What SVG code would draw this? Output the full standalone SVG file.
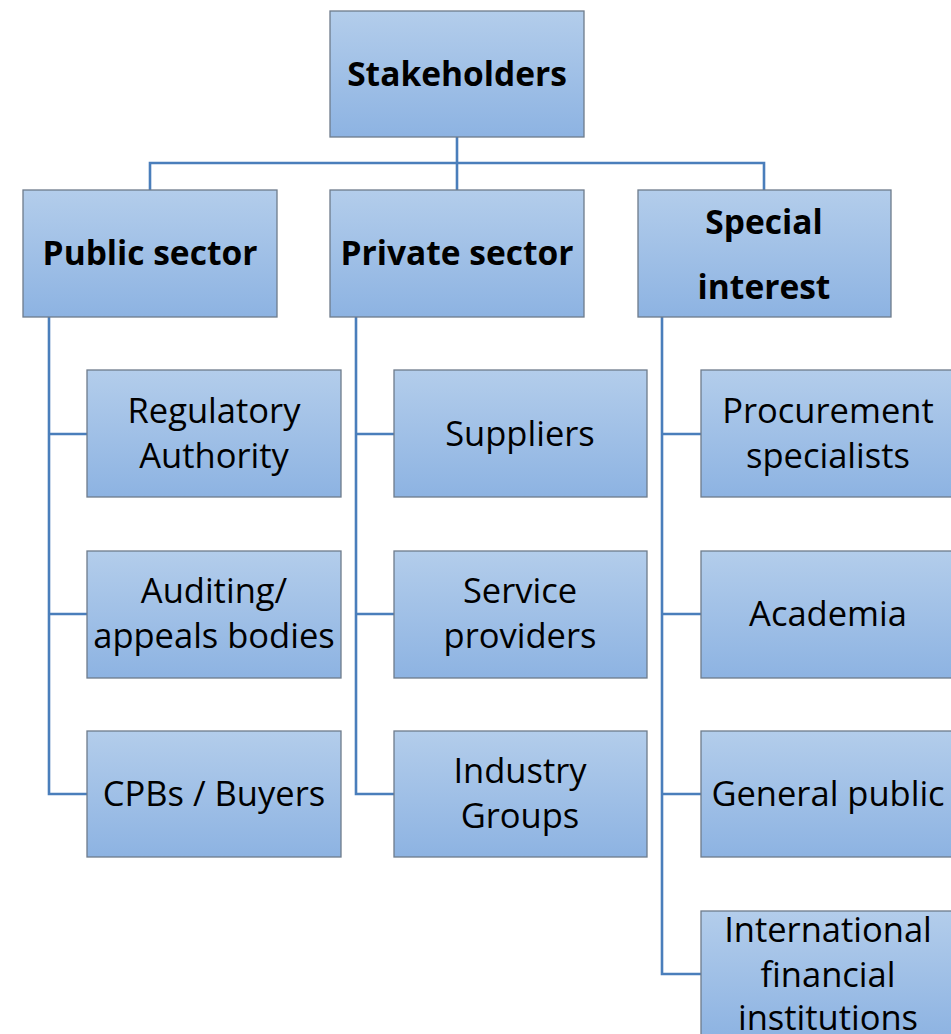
<svg xmlns="http://www.w3.org/2000/svg" width="951" height="1034" viewBox="0 0 951 1034">
<defs>
<linearGradient id="g" x1="0" y1="0" x2="0" y2="1">
<stop offset="0" stop-color="#B3CDEB"/>
<stop offset="1" stop-color="#8DB3E2"/>
</linearGradient>
<style>
.box{fill:url(#g);stroke:#6E7B8B;stroke-width:1.3}
.c{fill:none;stroke:#4A7EBB;stroke-width:2.6}
text{font-family:"Open Sans","Noto Sans",sans-serif;font-size:34.5px;fill:#000;text-anchor:middle}
.b{font-weight:bold;font-size:33.5px}
</style>
</defs>
<rect width="951" height="1034" fill="#fff"/>
<g id="connectors">
<path class="c" d="M457,137V163M150,190V163H764V190M457,163V190"/>
<path class="c" d="M49,317V794H87M49,434H87M49,614H87"/>
<path class="c" d="M356,317V794H394M356,434H394M356,614H394"/>
<path class="c" d="M662,317V974H701M662,434H701M662,614H701M662,794H701"/>
</g>
<g id="stakeholders"><rect class="box" x="330" y="11" width="254" height="126"/><text class="b" x="457" y="86">Stakeholders</text></g>
<g id="public-sector"><rect class="box" x="23" y="190" width="254" height="127"/><text class="b" x="150" y="265">Public sector</text></g>
<g id="private-sector"><rect class="box" x="330" y="190" width="254" height="127"/><text class="b" x="457" y="265">Private sector</text></g>
<g id="special-interest"><rect class="box" x="638" y="190" width="253" height="127"/><text class="b" x="764" y="234">Special</text><text class="b" x="764" y="299">interest</text></g>
<g id="regulatory-authority"><rect class="box" x="87" y="370" width="254" height="127"/><text x="214" y="423">Regulatory</text><text x="214" y="468">Authority</text></g>
<g id="auditing"><rect class="box" x="87" y="551" width="254" height="127"/><text x="214" y="603">Auditing/</text><text x="214" y="648">appeals bodies</text></g>
<g id="cpbs"><rect class="box" x="87" y="731" width="254" height="126"/><text x="214" y="806">CPBs / Buyers</text></g>
<g id="suppliers"><rect class="box" x="394" y="370" width="253" height="127"/><text x="520" y="446">Suppliers</text></g>
<g id="service-providers"><rect class="box" x="394" y="551" width="253" height="127"/><text x="520" y="603">Service</text><text x="520" y="648">providers</text></g>
<g id="industry-groups"><rect class="box" x="394" y="731" width="253" height="126"/><text x="520" y="783">Industry</text><text x="520" y="828">Groups</text></g>
<g id="procurement-specialists"><rect class="box" x="701" y="370" width="254" height="127"/><text x="828" y="423">Procurement</text><text x="828" y="468">specialists</text></g>
<g id="academia"><rect class="box" x="701" y="551" width="254" height="127"/><text x="828" y="626">Academia</text></g>
<g id="general-public"><rect class="box" x="701" y="731" width="254" height="126"/><text x="828" y="806">General public</text></g>
<g id="international"><rect class="box" x="701" y="911" width="254" height="127"/><text x="828" y="942">International</text><text x="828" y="987">financial</text><text x="828" y="1030">institutions</text></g>
</svg>
